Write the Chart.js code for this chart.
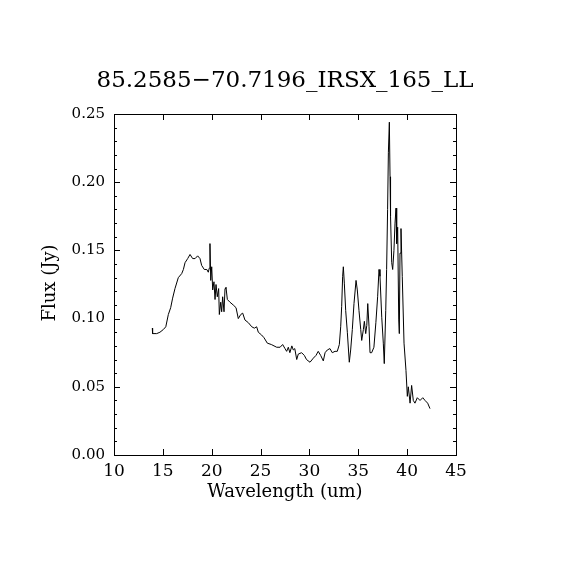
<!DOCTYPE html>
<html>
<head>
<meta charset="utf-8">
<script src="https://cdn.jsdelivr.net/npm/chart.js@4"></script>
<style>
  body { margin: 0; background: #fff; }
</style>
</head>
<body>
<canvas id="spec" width="570" height="570"></canvas>
<script>
const chartTitle = "85.2585\u221270.7196_IRSX_165_LL";
const xLabel = "Wavelength (um)";
const yLabel = "Flux (Jy)";

const wavelength = [
  13.92, 13.95, 14.37, 14.7, 15.05, 15.3, 15.56, 15.8, 16.0, 16.24,
  16.58, 16.93, 17.1, 17.27, 17.54, 17.78, 18.05, 18.3, 18.56, 18.8,
  18.97, 19.24, 19.5, 19.65, 19.75, 19.82, 19.9, 20.0, 20.1, 20.23,
  20.34, 20.44, 20.57, 20.71, 20.78, 20.92, 21.02, 21.12, 21.26, 21.36,
  21.46, 21.6, 21.87, 22.2, 22.49, 22.72, 22.97, 23.17, 23.4, 23.75,
  24.1, 24.36, 24.6, 24.77, 25.1, 25.35, 25.69, 26.1, 26.65, 27.0,
  27.26, 27.5, 27.67, 27.84, 28.0, 28.2, 28.35, 28.5, 28.7, 28.86,
  29.2, 29.48, 29.7, 30.06, 30.4, 30.67, 30.9, 31.15, 31.42, 31.6,
  31.83, 32.1, 32.34, 32.62, 32.85, 33.06, 33.2, 33.3, 33.4, 33.47,
  33.57, 33.71, 33.88, 34.08, 34.22, 34.39, 34.56, 34.77, 34.9, 35.07,
  35.25, 35.35, 35.52, 35.62, 35.76, 35.87, 35.97, 36.1, 36.2, 36.37,
  36.6, 36.8, 36.98, 37.12, 37.22, 37.4, 37.56, 37.66, 37.81, 37.9,
  38.0, 38.08, 38.18, 38.25, 38.3, 38.42, 38.52, 38.65, 38.76, 38.86,
  38.93, 39.03, 39.14, 39.2, 39.27, 39.37, 39.5, 39.68, 39.88, 40.02,
  40.12, 40.3, 40.46, 40.63, 40.8, 41.04, 41.32, 41.6, 41.83, 42.1,
  42.34
];
const flux = [
  0.093, 0.089, 0.089, 0.090, 0.092, 0.094, 0.103, 0.108, 0.115, 0.122,
  0.130, 0.133, 0.136, 0.141, 0.144, 0.147, 0.144, 0.144, 0.146, 0.144,
  0.139, 0.136, 0.136, 0.134, 0.137, 0.155, 0.128, 0.138, 0.121, 0.127,
  0.114, 0.125, 0.116, 0.122, 0.103, 0.112, 0.105, 0.116, 0.105, 0.122,
  0.123, 0.114, 0.112, 0.110, 0.108, 0.100, 0.103, 0.104, 0.099, 0.097,
  0.094, 0.093, 0.094, 0.090, 0.088, 0.086, 0.082, 0.081, 0.079, 0.079,
  0.081, 0.078, 0.076, 0.079, 0.075, 0.080, 0.077, 0.078, 0.070, 0.074,
  0.075, 0.073, 0.070, 0.068, 0.071, 0.073, 0.076, 0.073, 0.069, 0.075,
  0.077, 0.078, 0.075, 0.076, 0.076, 0.081, 0.094, 0.109, 0.131, 0.138,
  0.126, 0.106, 0.090, 0.068, 0.077, 0.092, 0.111, 0.128, 0.121, 0.106,
  0.092, 0.084, 0.092, 0.098, 0.089, 0.095, 0.111, 0.094, 0.075, 0.075,
  0.079, 0.097, 0.116, 0.136, 0.131, 0.101, 0.082, 0.067, 0.106, 0.136,
  0.180, 0.222, 0.244, 0.204, 0.175, 0.141, 0.136, 0.150, 0.170, 0.181,
  0.155, 0.167, 0.099, 0.089, 0.148, 0.166, 0.131, 0.082, 0.062, 0.043,
  0.050, 0.038, 0.051, 0.040, 0.038, 0.042, 0.040, 0.042, 0.040, 0.038,
  0.034
];

const xTicks = [10, 15, 20, 25, 30, 35, 40, 45];
const yTicks = [0.00, 0.05, 0.10, 0.15, 0.20, 0.25];

// frame, inward ticks on all four sides, and the texts
const framePlugin = {
  id: 'framePlugin',
  afterDraw(chart) {
    const ctx = chart.ctx;
    const a = chart.chartArea;
    const x = chart.scales.x;
    const y = chart.scales.y;
    ctx.save();
    ctx.strokeStyle = '#000';
    ctx.lineWidth = 1;
    ctx.strokeRect(a.left + 0.5, a.top + 0.5, a.right - a.left, a.bottom - a.top);

    ctx.beginPath();
    xTicks.forEach(v => {
      const px = Math.round(x.getPixelForValue(v)) + 0.5;
      ctx.moveTo(px, a.bottom); ctx.lineTo(px, a.bottom - 6);
      ctx.moveTo(px, a.top); ctx.lineTo(px, a.top + 6);
    });
    for (let i = 0; i <= 25; i++) {
      const v = i / 100;
      const len = i % 5 === 0 ? 6 : 3;
      const py = Math.round(y.getPixelForValue(v)) + 0.5;
      ctx.moveTo(a.left, py); ctx.lineTo(a.left + len, py);
      ctx.moveTo(a.right, py); ctx.lineTo(a.right - len, py);
    }
    ctx.stroke();

    ctx.fillStyle = '#000';
    ctx.textAlign = 'center';
    ctx.textBaseline = 'middle';
    ctx.font = '23px "DejaVu Serif"';
    ctx.fillText(chartTitle, (a.left + a.right) / 2, 81);
    ctx.font = '18px "DejaVu Serif"';
    ctx.fillText(xLabel, (a.left + a.right) / 2, 492);
    ctx.translate(50, 283);
    ctx.rotate(-Math.PI / 2);
    ctx.fillText(yLabel, 0, 0);
    ctx.restore();
  }
};

new Chart(document.getElementById('spec'), {
  type: 'line',
  data: {
    datasets: [{
      data: wavelength.map((w, i) => ({ x: w, y: flux[i] })),
      borderColor: '#000',
      borderWidth: 1,
      pointRadius: 0,
      tension: 0
    }]
  },
  options: {
    responsive: false,
    animation: false,
    layout: { padding: { top: 114, right: 114, left: 0, bottom: 0 } },
    plugins: { legend: { display: false }, tooltip: { enabled: false } },
    scales: {
      x: {
        type: 'linear',
        min: 10,
        max: 45,
        afterFit: s => { s.height = 115; },
        afterBuildTicks: s => { s.ticks = xTicks.map(v => ({ value: v })); },
        grid: { display: false },
        border: { display: false },
        ticks: {
          color: '#000',
          padding: -2,
          maxRotation: 0,
          font: { family: 'DejaVu Serif', size: 17 }
        }
      },
      y: {
        min: 0,
        max: 0.25,
        afterFit: s => { s.width = 114; },
        afterBuildTicks: s => { s.ticks = yTicks.map(v => ({ value: v })); },
        grid: { display: false },
        border: { display: false },
        ticks: {
          color: '#000',
          padding: 1,
          font: { family: 'DejaVu Serif', size: 15 },
          callback: v => v.toFixed(2)
        }
      }
    }
  },
  plugins: [framePlugin]
});
</script>
</body>
</html>
